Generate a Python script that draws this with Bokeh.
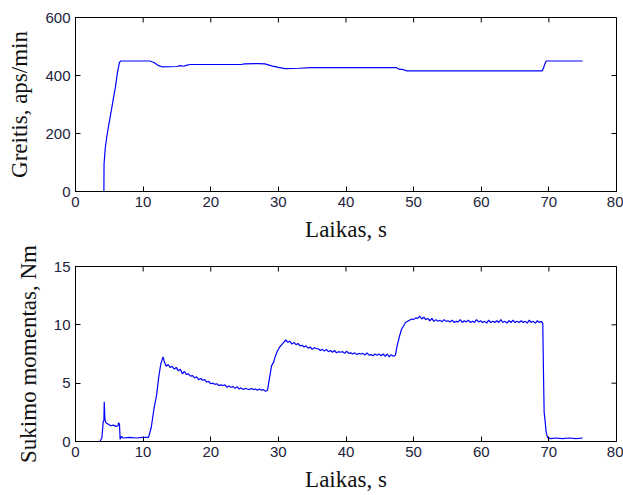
import math
from bokeh.plotting import figure
from bokeh.models import FixedTicker, Range1d
from bokeh.layouts import column
from bokeh.embed import file_html
from bokeh.resources import INLINE

# ---- data ----
speed_t = [0, 4.2, 4.22, 4.4, 4.7, 5.0, 5.3, 5.6, 5.9, 6.2, 6.5, 6.7, 11.0, 11.6, 12.2, 12.8,
           15.0, 15.5, 16.0, 16.5, 17.0, 24.5, 25.0, 27.0, 28.0, 29.0, 30.0, 31.0, 33.0, 35.0,
           47.5, 47.8, 48.5, 49.0, 69.0, 69.2, 69.4, 69.6, 75.0]
speed_v = [0, 0, 95, 150, 200, 240, 280, 320, 360, 410, 445, 450, 450, 445, 435, 430,
           431, 434, 432, 436, 438, 438, 440, 441, 440, 433, 428, 424, 425, 427,
           427, 422, 420, 416, 416, 425, 440, 450, 450]

torque_t = [0, 3.6, 3.9, 4.1, 4.2, 4.25, 4.35, 4.5, 4.8, 5.2, 5.6, 6.0, 6.3, 6.35, 6.5, 6.6, 6.8,
            7.0, 8.0, 9.0, 10.0, 10.8, 11.2, 11.6, 12.0, 12.3, 12.6, 12.8, 12.95,
            13.1, 13.4, 13.7, 14.0, 14.3, 14.6, 14.9, 15.2, 15.5, 15.8, 16.1, 16.4, 16.7, 17.0,
            17.3, 17.6, 17.9, 18.2, 18.5, 18.8, 19.1, 19.4, 19.7, 20.0, 20.3, 20.6, 20.9, 21.2,
            21.5, 21.8, 22.1, 22.4, 22.7, 23.0, 23.3, 23.6, 23.9, 24.2, 24.5, 24.8, 25.1, 25.4,
            25.7, 26.0, 26.3, 26.6, 26.9, 27.2, 27.5, 27.8, 28.1, 28.4,
            28.7, 29.0, 29.3, 29.6, 29.9, 30.2, 30.5, 30.8, 31.1, 31.4, 31.7, 32.0, 32.3, 32.6,
            32.9, 33.2, 33.5, 33.8, 34.1, 34.4, 34.7, 35.0, 35.3, 35.6, 35.9, 36.2, 36.5, 36.8,
            37.1, 37.4, 37.7, 38.0, 38.3, 38.6, 38.9, 39.2, 39.5, 39.8, 40.1, 40.4, 40.7, 41.0,
            41.3, 41.6, 41.9, 42.2, 42.5, 42.8, 43.1, 43.4, 43.7, 44.0, 44.3, 44.6, 44.9, 45.2,
            45.5, 45.8, 46.1, 46.4, 46.7, 47.0, 47.3,
            47.6, 47.9, 48.2, 48.5, 48.8, 49.1, 49.4, 49.7, 50.0, 50.3, 50.6, 50.9, 51.2, 51.5,
            51.8, 52.1, 52.4, 52.7, 53.0, 53.3, 53.6, 53.9, 54.2, 54.5, 54.8, 55.1, 55.4, 55.7,
            56.0, 56.3, 56.6, 56.9, 57.2, 57.5, 57.8, 58.1, 58.4, 58.7, 59.0, 59.3, 59.6, 59.9,
            60.2, 60.5, 60.8, 61.1, 61.4, 61.7, 62.0, 62.3, 62.6, 62.9, 63.2, 63.5, 63.8, 64.1,
            64.4, 64.7, 65.0, 65.3, 65.6, 65.9, 66.2, 66.5, 66.8, 67.1, 67.4, 67.7, 68.0, 68.3,
            68.6, 68.9, 69.1,
            69.2, 69.3, 69.4, 69.6, 69.8, 70.2, 71.0, 72.0, 73.0, 74.0, 75.0]
torque_v = [0, 0, 0.3, 1.7, 1.8, 3.4, 1.9, 1.6, 1.5, 1.35, 1.4, 1.3, 1.35, 1.6, 1.5, 0.2, 0.45,
            0.3, 0.35, 0.3, 0.35, 0.35, 1.2, 2.8, 4.0, 5.5, 6.6, 7.0, 7.25,
            6.9, 6.45, 6.6, 6.35, 6.45, 6.2, 6.35, 6.05, 6.2, 5.8, 6.0, 5.75, 5.8, 5.6,
            5.65, 5.45, 5.55, 5.3, 5.4, 5.25, 5.3, 5.1, 5.15, 4.95, 5.0, 4.9, 4.95, 4.8,
            4.85, 4.8, 4.85, 4.65, 4.75, 4.65, 4.7, 4.55, 4.7, 4.5, 4.6, 4.45, 4.55, 4.5,
            4.45, 4.55, 4.45, 4.5, 4.4, 4.5, 4.4, 4.45, 4.3, 4.4,
            5.5, 6.5, 6.8, 7.4, 7.8, 8.1, 8.3, 8.5, 8.7, 8.5, 8.6, 8.35, 8.5, 8.3,
            8.4, 8.2, 8.25, 8.1, 8.2, 8.0, 8.1, 7.9, 8.05, 7.95, 7.95, 7.8, 7.9, 7.75,
            7.9, 7.7, 7.8, 7.65, 7.8, 7.6, 7.7, 7.65, 7.7, 7.55, 7.75, 7.55, 7.6, 7.5,
            7.6, 7.45, 7.55, 7.5, 7.55, 7.4, 7.6, 7.4, 7.45, 7.35, 7.5, 7.4, 7.5, 7.35,
            7.5, 7.3, 7.5, 7.25, 7.45, 7.3, 7.4,
            8.3, 9.0, 9.6, 9.9, 10.2, 10.3, 10.4, 10.5, 10.45, 10.6, 10.55, 10.75, 10.5, 10.65,
            10.45, 10.55, 10.35, 10.55, 10.3, 10.45, 10.3, 10.4, 10.25, 10.45, 10.3, 10.35, 10.25, 10.4,
            10.2, 10.3, 10.25, 10.45, 10.2, 10.35, 10.25, 10.4, 10.2, 10.3, 10.2, 10.45, 10.25, 10.35,
            10.2, 10.3, 10.15, 10.4, 10.2, 10.3, 10.2, 10.35, 10.2, 10.45, 10.2, 10.3, 10.15, 10.35,
            10.2, 10.4, 10.2, 10.3, 10.2, 10.35, 10.2, 10.3, 10.15, 10.4, 10.2, 10.3, 10.15, 10.35,
            10.2, 10.3, 10.1,
            6.0, 2.5, 2.0, 0.8, 0.35, 0.25, 0.3, 0.25, 0.3, 0.25, 0.3]

x_ticks = [0, 10, 20, 30, 40, 50, 60, 70, 80]
speed_ticks = [0, 200, 400, 600]
torque_ticks = [0, 5, 10, 15]
x_range = (0, 80)
speed_range = (0, 600)
torque_range = (0, 15)
x_label = "Laikas, s"
speed_label = "Greitis, aps/min"
torque_label = "Sukimo momentas, Nm"

TICK_FONT = "Liberation Sans"
LABEL_FONT = "Liberation Serif"
TICK_COLOR = "#22223a"


def style_axis(ax, ticks):
    ax.ticker = FixedTicker(ticks=ticks)
    ax.minor_tick_line_color = None
    ax.major_tick_in = 5
    ax.major_tick_out = 0
    ax.axis_line_color = "black"
    ax.major_tick_line_color = "black"
    ax.major_label_text_font = TICK_FONT
    ax.major_label_text_color = TICK_COLOR
    ax.major_label_text_font_size = "15px"
    ax.major_label_standoff = 5


def make_fig(t, v, yr, yticks, ylabel, height, top_b, bottom_b):
    p = figure(width=623, height=height, output_backend="svg", toolbar_location=None,
               x_range=Range1d(*x_range), y_range=Range1d(*yr),
               min_border_left=75, min_border_right=7,
               min_border_top=top_b, min_border_bottom=bottom_b)
    p.xgrid.visible = False
    p.ygrid.visible = False
    p.outline_line_color = "black"
    p.outline_line_width = 1
    p.background_fill_color = "white"

    # inward ticks on top and right edges (box style)
    p.scatter(x_ticks, [yr[1]] * len(x_ticks), marker="dash", size=10, angle=math.pi / 2,
              line_color="black", line_width=1)
    p.scatter([x_range[1]] * len(yticks), yticks, marker="dash", size=10,
              line_color="black", line_width=1)

    p.line(t, v, line_color="#0000ff", line_width=1.2)

    style_axis(p.xaxis[0], x_ticks)
    style_axis(p.yaxis[0], yticks)
    p.xaxis.axis_label = x_label
    p.yaxis.axis_label = ylabel
    for ax in (p.xaxis[0], p.yaxis[0]):
        ax.axis_label_text_font = LABEL_FONT
        ax.axis_label_text_font_style = "normal"
        ax.axis_label_text_font_size = "23px"
        ax.axis_label_text_color = "#111111"
    p.xaxis.axis_label_standoff = 7
    p.yaxis.axis_label_standoff = 10
    return p


p1 = make_fig(speed_t, speed_v, speed_range, speed_ticks, speed_label, 244, 17, 51)
p2 = make_fig(torque_t, torque_v, torque_range, torque_ticks, torque_label, 250, 22, 52)

layout = column(p1, p2)
open("out.html", "w").write(file_html(layout, INLINE))
